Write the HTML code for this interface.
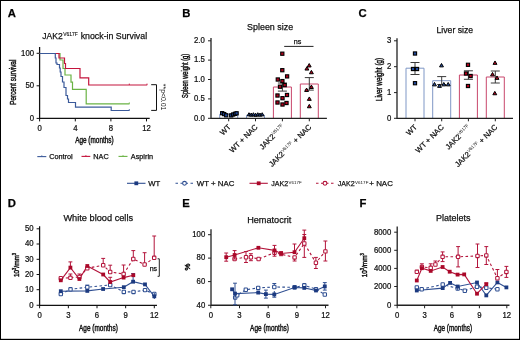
<!DOCTYPE html>
<html><head><meta charset="utf-8">
<style>
html,body{margin:0;padding:0;background:#fff;}
svg{display:block;}
text{font-family:"Liberation Sans",sans-serif;fill:#111;stroke:#111;stroke-width:0.25px;}
.pl{font-weight:bold;font-size:11.3px;fill:#000;}
.ti{font-size:9.6px;}
.tk{font-size:8.6px;}
.lg{font-size:7.75px;}
.cd{stroke-width:0.45px;}
.sp{stroke-width:0;}
</style></head>
<body>
<svg width="520" height="340" viewBox="0 0 520 340" xmlns="http://www.w3.org/2000/svg" style="will-change:transform">
<rect x="0.5" y="0.5" width="519" height="339" fill="#fff" stroke="#000" stroke-width="1"/>
<path d="M0 338.85H520" stroke="#000" stroke-width="0.3"/>

<text class="pl" x="7.8" y="16.6">A</text>
<text class="pl" x="182.2" y="16.6">B</text>
<text class="pl" x="358.5" y="16.6">C</text>
<text class="pl" x="7.8" y="206.6">D</text>
<text class="pl" x="182.2" y="206.6">E</text>
<text class="pl" x="359.5" y="206.6">F</text>
<text class="ti" x="42.3" y="39" textLength="20.4" lengthAdjust="spacingAndGlyphs">JAK2</text>
<text x="63.2" y="36" textLength="14.6" lengthAdjust="spacingAndGlyphs" style="font-size:5px;stroke-width:0.1px">V617F</text>
<text class="ti" x="80.7" y="39" textLength="66.4" lengthAdjust="spacingAndGlyphs">knock-in Survival</text>
<g stroke="#111" stroke-width="1.25" fill="none"><path d="M39.6 47V118.4H149.7"/></g>
<g stroke="#111" stroke-width="1" fill="none"><path d="M36.60 53.30H39.6M36.60 85.80H39.6M36.60 118.40H39.6M39.60 118.4V121.40M75.30 118.4V121.40M110.90 118.4V121.40M146.50 118.4V121.40"/></g>
<text class="tk" transform="translate(34.00,55.60) scale(0.9,1)" text-anchor="end">100</text>
<text class="tk" transform="translate(34.00,88.10) scale(0.9,1)" text-anchor="end">50</text>
<text class="tk" transform="translate(34.00,120.70) scale(0.9,1)" text-anchor="end">0</text>
<text class="tk" transform="translate(39.60,130.90) scale(0.9,1)" text-anchor="middle">0</text>
<text class="tk" transform="translate(75.30,130.90) scale(0.9,1)" text-anchor="middle">4</text>
<text class="tk" transform="translate(110.90,130.90) scale(0.9,1)" text-anchor="middle">8</text>
<text class="tk" transform="translate(146.50,130.90) scale(0.9,1)" text-anchor="middle">12</text>
<text class="cd" x="94.4" y="142.6" font-size="9.2" text-anchor="middle" textLength="38.5" lengthAdjust="spacingAndGlyphs">Age (months)</text>
<text class="cd" transform="translate(15.5,82.2) rotate(-90)" font-size="9.4" text-anchor="middle" textLength="45" lengthAdjust="spacingAndGlyphs">Percent survival</text>
<g fill="none" stroke-width="1.2">
<path stroke="#6ab344" d="M39.7 53.5H60V60H63V68.5H65V75H71V82.2H72.5V89.3H86.2V103.8H129.5"/>
<path stroke="#c4143c" d="M39.7 53.5H59V58H64.5V63.5H65.5V68.5H80V77.8H88.7V85H147.2"/>
<path stroke="#3b5a9a" d="M39.7 53.5H55.3V58H56V63H57V64.5H59.5V68H60.2V72H61V76.5H62.5V82H64V87.5H66V95.5H67.5V99H68.5V102.5H75.5V107.2H111.2V110.5H129.5"/>
</g>
<g stroke-width="0.9" fill="none"><path stroke="#c4143c" d="M129.3 83.6V85M147 83.6V85"/><path stroke="#6ab344" d="M129.3 102.4V103.8"/><path stroke="#3b5a9a" d="M129.3 109.1V110.5"/></g>
<path d="M151.2 84.7H156.5V110.4H151.2" stroke="#111" stroke-width="1" fill="none"/>
<text class="sp" transform="translate(161.4,83.8) rotate(90)" font-size="7.6" textLength="26.6" lengthAdjust="spacingAndGlyphs">**p&lt;0.01</text>
<g stroke-width="1.1"><path stroke="#3b5a9a" d="M37.3 156.6H46.3"/><path stroke="#c4143c" d="M81.5 156.4H90.3"/><path stroke="#6ab344" d="M118.5 156.4H127.5"/></g>
<g stroke-width="0.8"><path stroke="#3b5a9a" d="M41.8 155.3V156.6"/><path stroke="#c4143c" d="M85.9 155.1V156.4"/><path stroke="#6ab344" d="M123 155.1V156.4"/></g>
<g font-size="7.3"><text x="49.2" y="158.6">Control</text><text x="93.3" y="158.6">NAC</text><text x="130.8" y="158.6">Aspirin</text></g>
<text class="ti" x="247.1" y="30.1" textLength="46" lengthAdjust="spacingAndGlyphs">Spleen size</text>
<path d="M219.70 118.3V114.30H237.70V118.3" stroke="#7f97c6" stroke-width="1.0" fill="none"/>
<path d="M246.50 118.3V115.30H264.50V118.3" stroke="#7f97c6" stroke-width="1.0" fill="none"/>
<path d="M273.40 118.3V87.00H291.40V118.3" stroke="#c9476c" stroke-width="1.0" fill="none"/>
<path d="M300.30 118.3V84.00H318.30V118.3" stroke="#c9476c" stroke-width="1.0" fill="none"/>
<g stroke="#222" stroke-width="1.3" fill="none"><path d="M211.0 38V118.3H326.9"/></g>
<g stroke="#222" stroke-width="1" fill="none"><path d="M208.00 40.80H211.0M208.00 60.10H211.0M208.00 79.50H211.0M208.00 98.90H211.0M208.00 118.30H211.0M228.70 118.3V121.30M255.50 118.3V121.30M282.40 118.3V121.30M309.30 118.3V121.30"/></g>
<path d="M282.40 83.00V91.10M277.90 83.00H286.90M277.90 91.10H286.90" stroke="#3a3a3a" stroke-width="1.0" fill="none"/>
<path d="M309.30 77.60V90.10M304.80 77.60H313.80M304.80 90.10H313.80" stroke="#3a3a3a" stroke-width="1.0" fill="none"/>
<rect x="220.60" y="111.60" width="3.2" height="3.2" fill="#234a9c" stroke="#000" stroke-width="1.1"/>
<rect x="222.60" y="112.50" width="3.2" height="3.2" fill="#234a9c" stroke="#000" stroke-width="1.1"/>
<rect x="224.60" y="113.70" width="3.2" height="3.2" fill="#234a9c" stroke="#000" stroke-width="1.1"/>
<rect x="229.60" y="113.80" width="3.2" height="3.2" fill="#234a9c" stroke="#000" stroke-width="1.1"/>
<rect x="231.60" y="112.90" width="3.2" height="3.2" fill="#234a9c" stroke="#000" stroke-width="1.1"/>
<rect x="233.40" y="112.20" width="3.2" height="3.2" fill="#234a9c" stroke="#000" stroke-width="1.1"/>
<rect x="235.00" y="111.70" width="3.2" height="3.2" fill="#234a9c" stroke="#000" stroke-width="1.1"/>
<path d="M249.00 112.72L250.80 115.85L247.20 115.85Z" fill="#234a9c" stroke="#000" stroke-width="1.0"/>
<path d="M251.20 113.02L253.00 116.15L249.40 116.15Z" fill="#234a9c" stroke="#000" stroke-width="1.0"/>
<path d="M253.40 112.72L255.20 115.85L251.60 115.85Z" fill="#234a9c" stroke="#000" stroke-width="1.0"/>
<path d="M255.60 113.22L257.40 116.35L253.80 116.35Z" fill="#234a9c" stroke="#000" stroke-width="1.0"/>
<path d="M257.80 112.72L259.60 115.85L256.00 115.85Z" fill="#234a9c" stroke="#000" stroke-width="1.0"/>
<path d="M260.00 113.02L261.80 116.15L258.20 116.15Z" fill="#234a9c" stroke="#000" stroke-width="1.0"/>
<path d="M262.20 112.72L264.00 115.85L260.40 115.85Z" fill="#234a9c" stroke="#000" stroke-width="1.0"/>
<rect x="280.70" y="52.10" width="3.2" height="3.2" fill="#b4001c" stroke="#000" stroke-width="1.1"/>
<rect x="280.70" y="68.60" width="3.2" height="3.2" fill="#b4001c" stroke="#000" stroke-width="1.1"/>
<rect x="285.50" y="74.80" width="3.2" height="3.2" fill="#b4001c" stroke="#000" stroke-width="1.1"/>
<rect x="276.20" y="77.90" width="3.2" height="3.2" fill="#b4001c" stroke="#000" stroke-width="1.1"/>
<rect x="280.80" y="79.50" width="3.2" height="3.2" fill="#b4001c" stroke="#000" stroke-width="1.1"/>
<rect x="283.10" y="83.50" width="3.2" height="3.2" fill="#b4001c" stroke="#000" stroke-width="1.1"/>
<rect x="278.40" y="85.10" width="3.2" height="3.2" fill="#b4001c" stroke="#000" stroke-width="1.1"/>
<rect x="275.90" y="93.90" width="3.2" height="3.2" fill="#b4001c" stroke="#000" stroke-width="1.1"/>
<rect x="280.90" y="96.60" width="3.2" height="3.2" fill="#b4001c" stroke="#000" stroke-width="1.1"/>
<rect x="285.40" y="93.40" width="3.2" height="3.2" fill="#b4001c" stroke="#000" stroke-width="1.1"/>
<rect x="275.90" y="100.90" width="3.2" height="3.2" fill="#b4001c" stroke="#000" stroke-width="1.1"/>
<rect x="280.90" y="102.90" width="3.2" height="3.2" fill="#b4001c" stroke="#000" stroke-width="1.1"/>
<rect x="284.90" y="101.40" width="3.2" height="3.2" fill="#b4001c" stroke="#000" stroke-width="1.1"/>
<path d="M309.20 63.56L311.15 66.96L307.25 66.96Z" fill="#b4001c" stroke="#000" stroke-width="1.0"/>
<path d="M306.90 66.66L308.85 70.06L304.95 70.06Z" fill="#b4001c" stroke="#000" stroke-width="1.0"/>
<path d="M311.40 70.36L313.35 73.76L309.45 73.76Z" fill="#b4001c" stroke="#000" stroke-width="1.0"/>
<path d="M311.40 85.06L313.35 88.46L309.45 88.46Z" fill="#b4001c" stroke="#000" stroke-width="1.0"/>
<path d="M306.60 88.06L308.55 91.46L304.65 91.46Z" fill="#b4001c" stroke="#000" stroke-width="1.0"/>
<path d="M309.30 96.96L311.25 100.36L307.35 100.36Z" fill="#b4001c" stroke="#000" stroke-width="1.0"/>
<path d="M309.30 104.36L311.25 107.76L307.35 107.76Z" fill="#b4001c" stroke="#000" stroke-width="1.0"/>
<text class="tk" transform="translate(204.80,43.10) scale(0.9,1)" text-anchor="end">2.0</text>
<text class="tk" transform="translate(204.80,62.40) scale(0.9,1)" text-anchor="end">1.5</text>
<text class="tk" transform="translate(204.80,81.80) scale(0.9,1)" text-anchor="end">1.0</text>
<text class="tk" transform="translate(204.80,101.20) scale(0.9,1)" text-anchor="end">0.5</text>
<text class="tk" transform="translate(204.80,120.60) scale(0.9,1)" text-anchor="end">0.0</text>
<text class="cd" transform="translate(188.4,75.9) rotate(-90)" font-size="8.8" text-anchor="middle" textLength="44" lengthAdjust="spacingAndGlyphs">Spleen weight (g)</text>
<path d="M284.2 46.4H313.5" stroke="#222" stroke-width="1" fill="none"/>
<text x="297.6" y="43.9" font-size="7.2" text-anchor="middle">ns</text>
<text transform="translate(231.30,127.50) rotate(-45)" font-size="7.6" text-anchor="end">WT</text>
<text transform="translate(258.10,127.50) rotate(-45)" font-size="7.6" text-anchor="end">WT + NAC</text>
<text transform="translate(285.00,127.50) rotate(-45)" font-size="7.6" text-anchor="end">JAK2<tspan class="sp" font-size="4.6" dy="-2.8">V617F</tspan></text>
<text transform="translate(311.90,127.50) rotate(-45)" font-size="7.6" text-anchor="end">JAK2<tspan class="sp" font-size="4.6" dy="-2.8">V617F</tspan><tspan dy="2.8"> + NAC</tspan></text>
<text class="ti" x="436.5" y="32.5" textLength="36.6" lengthAdjust="spacingAndGlyphs">Liver size</text>
<path d="M406.00 118.3V68.20H424.00V118.3" stroke="#7f97c6" stroke-width="1.0" fill="none"/>
<path d="M432.70 118.3V80.70H450.70V118.3" stroke="#7f97c6" stroke-width="1.0" fill="none"/>
<path d="M459.40 118.3V75.00H477.40V118.3" stroke="#c9476c" stroke-width="1.0" fill="none"/>
<path d="M486.30 118.3V77.00H504.30V118.3" stroke="#c9476c" stroke-width="1.0" fill="none"/>
<g stroke="#222" stroke-width="1.3" fill="none"><path d="M397.0 38.3V118.3H513"/></g>
<g stroke="#222" stroke-width="1" fill="none"><path d="M394.00 40.80H397.0M394.00 66.70H397.0M394.00 92.60H397.0M394.00 118.30H397.0M415.00 118.3V121.30M441.70 118.3V121.30M468.40 118.3V121.30M495.30 118.3V121.30"/></g>
<path d="M415.00 62.50V74.50M410.50 62.50H419.50M410.50 74.50H419.50" stroke="#3a3a3a" stroke-width="1.0" fill="none"/>
<path d="M441.70 76.60V84.50M437.20 76.60H446.20M437.20 84.50H446.20" stroke="#3a3a3a" stroke-width="1.0" fill="none"/>
<path d="M468.40 70.80V79.30M463.90 70.80H472.90M463.90 79.30H472.90" stroke="#3a3a3a" stroke-width="1.0" fill="none"/>
<path d="M495.30 71.00V83.00M490.80 71.00H499.80M490.80 83.00H499.80" stroke="#3a3a3a" stroke-width="1.0" fill="none"/>
<rect x="413.40" y="51.90" width="3.2" height="3.2" fill="#234a9c" stroke="#000" stroke-width="1.1"/>
<rect x="411.40" y="67.40" width="3.2" height="3.2" fill="#234a9c" stroke="#000" stroke-width="1.1"/>
<rect x="415.40" y="67.40" width="3.2" height="3.2" fill="#234a9c" stroke="#000" stroke-width="1.1"/>
<rect x="413.40" y="81.60" width="3.2" height="3.2" fill="#234a9c" stroke="#000" stroke-width="1.1"/>
<path d="M441.50 63.46L443.45 66.86L439.55 66.86Z" fill="#234a9c" stroke="#000" stroke-width="1.0"/>
<path d="M434.50 82.46L436.45 85.86L432.55 85.86Z" fill="#234a9c" stroke="#000" stroke-width="1.0"/>
<path d="M439.50 83.96L441.45 87.36L437.55 87.36Z" fill="#234a9c" stroke="#000" stroke-width="1.0"/>
<path d="M443.80 82.46L445.75 85.86L441.85 85.86Z" fill="#234a9c" stroke="#000" stroke-width="1.0"/>
<path d="M448.20 82.46L450.15 85.86L446.25 85.86Z" fill="#234a9c" stroke="#000" stroke-width="1.0"/>
<rect x="466.40" y="63.20" width="3.2" height="3.2" fill="#b4001c" stroke="#000" stroke-width="1.1"/>
<rect x="464.40" y="71.90" width="3.2" height="3.2" fill="#b4001c" stroke="#000" stroke-width="1.1"/>
<rect x="469.00" y="74.40" width="3.2" height="3.2" fill="#b4001c" stroke="#000" stroke-width="1.1"/>
<rect x="466.40" y="84.40" width="3.2" height="3.2" fill="#b4001c" stroke="#000" stroke-width="1.1"/>
<path d="M495.00 60.96L496.95 64.36L493.05 64.36Z" fill="#b4001c" stroke="#000" stroke-width="1.0"/>
<path d="M492.50 72.46L494.45 75.86L490.55 75.86Z" fill="#b4001c" stroke="#000" stroke-width="1.0"/>
<path d="M497.00 75.96L498.95 79.36L495.05 79.36Z" fill="#b4001c" stroke="#000" stroke-width="1.0"/>
<path d="M494.80 91.36L496.75 94.76L492.85 94.76Z" fill="#b4001c" stroke="#000" stroke-width="1.0"/>
<text class="tk" transform="translate(391.20,43.10) scale(0.9,1)" text-anchor="end">3</text>
<text class="tk" transform="translate(391.20,69.00) scale(0.9,1)" text-anchor="end">2</text>
<text class="tk" transform="translate(391.20,94.90) scale(0.9,1)" text-anchor="end">1</text>
<text class="tk" transform="translate(391.20,120.60) scale(0.9,1)" text-anchor="end">0</text>
<text class="cd" transform="translate(382.3,79.5) rotate(-90)" font-size="8.6" text-anchor="middle" textLength="43.2" lengthAdjust="spacingAndGlyphs">Liver weight (g)</text>
<text transform="translate(417.60,127.70) rotate(-45)" font-size="7.6" text-anchor="end">WT</text>
<text transform="translate(444.30,127.70) rotate(-45)" font-size="7.6" text-anchor="end">WT + NAC</text>
<text transform="translate(471.00,127.70) rotate(-45)" font-size="7.6" text-anchor="end">JAK2<tspan class="sp" font-size="4.6" dy="-2.8">V617F</tspan></text>
<text transform="translate(497.90,127.70) rotate(-45)" font-size="7.6" text-anchor="end">JAK2<tspan class="sp" font-size="4.6" dy="-2.8">V617F</tspan><tspan dy="2.8"> + NAC</tspan></text>
<path d="M127 183.3H145.5" stroke="#2f4f92" stroke-width="1.1"/>
<rect x="134.40" y="181.40" width="3.8" height="3.8" fill="#1c3a80"/>
<path d="M175.5 183.3H193.5" stroke="#2f4f92" stroke-width="1.1" stroke-dasharray="2.5 2.5"/>
<circle cx="184.5" cy="183.3" r="1.9" fill="#fff" stroke="#2f4f92" stroke-width="1.1"/>
<path d="M249.5 183.3H267.8" stroke="#b3143b" stroke-width="1.1"/>
<rect x="256.80" y="181.40" width="3.8" height="3.8" fill="#aa0829"/>
<path d="M316 183.3H334.5" stroke="#b3143b" stroke-width="1.1" stroke-dasharray="2.5 2.5"/>
<circle cx="325" cy="183.3" r="1.9" fill="#fff" stroke="#b3143b" stroke-width="1.1"/>
<g class="lg"><text x="148.2" y="185.7" textLength="12" lengthAdjust="spacingAndGlyphs">WT</text><text x="196.8" y="185.7" textLength="37.6" lengthAdjust="spacingAndGlyphs">WT + NAC</text><text x="271.3" y="185.7" textLength="16.9" lengthAdjust="spacingAndGlyphs">JAK2</text><text class="sp" x="288.6" y="183.5" font-size="4.2" textLength="13" lengthAdjust="spacingAndGlyphs">V617F</text><text x="337.8" y="185.7" textLength="16.9" lengthAdjust="spacingAndGlyphs">JAK2</text><text class="sp" x="355.1" y="183.5" font-size="4.2" textLength="13.3" lengthAdjust="spacingAndGlyphs">V617F</text><text x="369.3" y="185.7" textLength="23.6" lengthAdjust="spacingAndGlyphs">+ NAC</text></g>
<text class="ti" x="63.4" y="220.5" textLength="69.7" lengthAdjust="spacingAndGlyphs">White blood cells</text>
<g stroke="#111" stroke-width="1.25" fill="none"><path d="M39.6 226.2V305.25H157"/></g>
<g stroke="#111" stroke-width="1" fill="none"><path d="M36.60 228.80H39.6M36.60 244.00H39.6M36.60 259.30H39.6M36.60 274.50H39.6M36.60 289.70H39.6M36.60 305.25H39.6M39.60 305.25V308.25M68.35 305.25V308.25M97.00 305.25V308.25M125.65 305.25V308.25M154.30 305.25V308.25"/></g>
<text class="tk" transform="translate(33.60,231.10) scale(0.9,1)" text-anchor="end">50</text>
<text class="tk" transform="translate(33.60,246.30) scale(0.9,1)" text-anchor="end">40</text>
<text class="tk" transform="translate(33.60,261.60) scale(0.9,1)" text-anchor="end">30</text>
<text class="tk" transform="translate(33.60,276.80) scale(0.9,1)" text-anchor="end">20</text>
<text class="tk" transform="translate(33.60,292.00) scale(0.9,1)" text-anchor="end">10</text>
<text class="tk" transform="translate(33.60,307.55) scale(0.9,1)" text-anchor="end">0</text>
<text class="tk" transform="translate(39.60,317.90) scale(0.9,1)" text-anchor="middle">0</text>
<text class="tk" transform="translate(68.35,317.90) scale(0.9,1)" text-anchor="middle">3</text>
<text class="tk" transform="translate(97.00,317.90) scale(0.9,1)" text-anchor="middle">6</text>
<text class="tk" transform="translate(125.65,317.90) scale(0.9,1)" text-anchor="middle">9</text>
<text class="tk" transform="translate(154.30,317.90) scale(0.9,1)" text-anchor="middle">12</text>
<text class="cd" x="98.4" y="330.8" font-size="9.2" text-anchor="middle" textLength="38.8" lengthAdjust="spacingAndGlyphs">Age (months)</text>
<text class="cd" transform="translate(18.6,265) rotate(-90)" font-size="7.8" text-anchor="middle" textLength="24" lengthAdjust="spacingAndGlyphs">10<tspan class="cd" font-size="5" dy="-2.8">3</tspan><tspan dy="2.8">/mm</tspan><tspan class="cd" font-size="5" dy="-2.8">3</tspan></text>
<path d="M60.80 294.10 L70.50 289.30 L87.30 287.20 L110.20 285.00 L123.80 291.90 L133.50 291.90 L145.00 290.10 L154.30 294.00" stroke="#2f4f92" stroke-width="1.1" fill="none" stroke-dasharray="2.6 2.4"/>
<path d="M60.80 291.20 L87.30 290.90 L103.10 289.00 L123.80 287.20 L133.10 281.70 L145.00 284.40 L154.30 296.30" stroke="#2f4f92" stroke-width="1.1" fill="none"/>
<path d="M60.80 278.20 L70.40 277.80 L79.40 277.00 L87.30 268.20 L103.20 265.20 L110.20 272.00 L123.60 274.00 L133.30 259.00 L144.60 264.50 L154.20 257.80" stroke="#b3143b" stroke-width="1.1" fill="none" stroke-dasharray="2.6 2.4"/>
<path d="M60.80 280.30 L70.40 267.60 L79.40 279.00 L87.30 266.00 L103.20 274.50 L110.20 282.00 L123.60 277.60 L133.30 275.20" stroke="#b3143b" stroke-width="1.1" fill="none"/>
<path d="M87.30 285.10V287.20" stroke="#2f4f92" stroke-width="1" fill="none"/>
<path d="M85.35 285.10H89.25" stroke="#2f4f92" stroke-width="1.0" fill="none"/>
<rect x="59.10" y="292.40" width="3.4" height="3.4" rx="0.7" fill="#fff" stroke="#2f4f92" stroke-width="1.05"/>
<rect x="68.80" y="287.60" width="3.4" height="3.4" rx="0.7" fill="#fff" stroke="#2f4f92" stroke-width="1.05"/>
<rect x="85.60" y="285.50" width="3.4" height="3.4" rx="0.7" fill="#fff" stroke="#2f4f92" stroke-width="1.05"/>
<rect x="108.50" y="283.30" width="3.4" height="3.4" rx="0.7" fill="#fff" stroke="#2f4f92" stroke-width="1.05"/>
<rect x="122.10" y="290.20" width="3.4" height="3.4" rx="0.7" fill="#fff" stroke="#2f4f92" stroke-width="1.05"/>
<rect x="131.80" y="290.20" width="3.4" height="3.4" rx="0.7" fill="#fff" stroke="#2f4f92" stroke-width="1.05"/>
<rect x="143.30" y="288.40" width="3.4" height="3.4" rx="0.7" fill="#fff" stroke="#2f4f92" stroke-width="1.05"/>
<rect x="152.60" y="292.30" width="3.4" height="3.4" rx="0.7" fill="#fff" stroke="#2f4f92" stroke-width="1.05"/>
<path d="M133.10 273.60V281.70" stroke="#2f4f92" stroke-width="1" fill="none"/>
<path d="M131.15 273.60H135.05" stroke="#2f4f92" stroke-width="1.0" fill="none"/>
<path d="M154.30 293.00V299.00" stroke="#2f4f92" stroke-width="1" fill="none"/>
<rect x="58.90" y="289.30" width="3.8" height="3.8" fill="#1c3a80"/>
<rect x="85.40" y="289.00" width="3.8" height="3.8" fill="#1c3a80"/>
<rect x="101.20" y="287.10" width="3.8" height="3.8" fill="#1c3a80"/>
<rect x="121.90" y="285.30" width="3.8" height="3.8" fill="#1c3a80"/>
<rect x="131.20" y="279.80" width="3.8" height="3.8" fill="#1c3a80"/>
<rect x="143.10" y="282.50" width="3.8" height="3.8" fill="#1c3a80"/>
<rect x="152.40" y="294.40" width="3.8" height="3.8" fill="#1c3a80"/>
<path d="M70.40 274.00V277.80" stroke="#b3143b" stroke-width="1" fill="none"/>
<path d="M68.45 274.00H72.35" stroke="#b3143b" stroke-width="1.0" fill="none"/>
<path d="M79.40 274.00V277.00" stroke="#b3143b" stroke-width="1" fill="none"/>
<path d="M77.45 274.00H81.35" stroke="#b3143b" stroke-width="1.0" fill="none"/>
<path d="M103.20 258.40V265.20" stroke="#b3143b" stroke-width="1" fill="none"/>
<path d="M101.25 258.40H105.15" stroke="#b3143b" stroke-width="1.0" fill="none"/>
<path d="M110.20 265.20V272.00" stroke="#b3143b" stroke-width="1" fill="none"/>
<path d="M108.25 265.20H112.15" stroke="#b3143b" stroke-width="1.0" fill="none"/>
<path d="M123.60 265.00V274.00" stroke="#b3143b" stroke-width="1" fill="none"/>
<path d="M121.65 265.00H125.55" stroke="#b3143b" stroke-width="1.0" fill="none"/>
<path d="M133.30 250.60V259.00" stroke="#b3143b" stroke-width="1" fill="none"/>
<path d="M131.35 250.60H135.25" stroke="#b3143b" stroke-width="1.0" fill="none"/>
<path d="M144.60 252.70V264.50" stroke="#b3143b" stroke-width="1" fill="none"/>
<path d="M142.65 252.70H146.55" stroke="#b3143b" stroke-width="1.0" fill="none"/>
<path d="M154.20 236.00V257.80" stroke="#b3143b" stroke-width="1" fill="none"/>
<path d="M152.25 236.00H156.15" stroke="#b3143b" stroke-width="1.0" fill="none"/>
<rect x="59.10" y="276.50" width="3.4" height="3.4" rx="0.7" fill="#fff" stroke="#b3143b" stroke-width="1.05"/>
<rect x="68.70" y="276.10" width="3.4" height="3.4" rx="0.7" fill="#fff" stroke="#b3143b" stroke-width="1.05"/>
<rect x="77.70" y="275.30" width="3.4" height="3.4" rx="0.7" fill="#fff" stroke="#b3143b" stroke-width="1.05"/>
<rect x="85.60" y="266.50" width="3.4" height="3.4" rx="0.7" fill="#fff" stroke="#b3143b" stroke-width="1.05"/>
<rect x="101.50" y="263.50" width="3.4" height="3.4" rx="0.7" fill="#fff" stroke="#b3143b" stroke-width="1.05"/>
<rect x="108.50" y="270.30" width="3.4" height="3.4" rx="0.7" fill="#fff" stroke="#b3143b" stroke-width="1.05"/>
<rect x="121.90" y="272.30" width="3.4" height="3.4" rx="0.7" fill="#fff" stroke="#b3143b" stroke-width="1.05"/>
<rect x="131.60" y="257.30" width="3.4" height="3.4" rx="0.7" fill="#fff" stroke="#b3143b" stroke-width="1.05"/>
<rect x="142.90" y="262.80" width="3.4" height="3.4" rx="0.7" fill="#fff" stroke="#b3143b" stroke-width="1.05"/>
<rect x="152.50" y="256.10" width="3.4" height="3.4" rx="0.7" fill="#fff" stroke="#b3143b" stroke-width="1.05"/>
<path d="M70.40 261.90V267.60" stroke="#b3143b" stroke-width="1" fill="none"/>
<path d="M68.45 261.90H72.35" stroke="#b3143b" stroke-width="1.0" fill="none"/>
<path d="M110.20 277.30V282.00" stroke="#b3143b" stroke-width="1" fill="none"/>
<path d="M108.25 277.30H112.15" stroke="#b3143b" stroke-width="1.0" fill="none"/>
<rect x="58.90" y="278.40" width="3.8" height="3.8" fill="#aa0829"/>
<rect x="68.50" y="265.70" width="3.8" height="3.8" fill="#aa0829"/>
<rect x="77.50" y="277.10" width="3.8" height="3.8" fill="#aa0829"/>
<rect x="85.40" y="264.10" width="3.8" height="3.8" fill="#aa0829"/>
<rect x="101.30" y="272.60" width="3.8" height="3.8" fill="#aa0829"/>
<rect x="108.30" y="280.10" width="3.8" height="3.8" fill="#aa0829"/>
<rect x="121.70" y="275.70" width="3.8" height="3.8" fill="#aa0829"/>
<rect x="131.40" y="273.30" width="3.8" height="3.8" fill="#aa0829"/>
<path d="M157.6 258.8H159.3V276.3H157.6" stroke="#222" stroke-width="1" fill="none"/>
<text x="153.4" y="270.6" font-size="7" text-anchor="middle" fill="#333">ns</text>
<text class="ti" x="247.2" y="223.4" textLength="44.2" lengthAdjust="spacingAndGlyphs">Hematocrit</text>
<g stroke="#222" stroke-width="1.3" fill="none"><path d="M211.0 229.2V305.25H328.5"/></g>
<g stroke="#222" stroke-width="1" fill="none"><path d="M208.00 234.70H211.0M208.00 258.10H211.0M208.00 281.60H211.0M208.00 305.25H211.0M210.80 305.25V308.25M239.50 305.25V308.25M268.20 305.25V308.25M296.80 305.25V308.25M325.50 305.25V308.25"/></g>
<text class="tk" transform="translate(205.20,237.00) scale(0.9,1)" text-anchor="end">100</text>
<text class="tk" transform="translate(205.20,260.40) scale(0.9,1)" text-anchor="end">80</text>
<text class="tk" transform="translate(205.20,283.90) scale(0.9,1)" text-anchor="end">60</text>
<text class="tk" transform="translate(205.20,307.55) scale(0.9,1)" text-anchor="end">40</text>
<text class="tk" transform="translate(210.80,317.90) scale(0.9,1)" text-anchor="middle">0</text>
<text class="tk" transform="translate(239.50,317.90) scale(0.9,1)" text-anchor="middle">3</text>
<text class="tk" transform="translate(268.20,317.90) scale(0.9,1)" text-anchor="middle">6</text>
<text class="tk" transform="translate(296.80,317.90) scale(0.9,1)" text-anchor="middle">9</text>
<text class="tk" transform="translate(325.50,317.90) scale(0.9,1)" text-anchor="middle">12</text>
<text class="cd" x="269.5" y="330.8" font-size="9.2" text-anchor="middle" textLength="38.8" lengthAdjust="spacingAndGlyphs">Age (months)</text>
<text class="cd" transform="translate(190.4,267) rotate(-90)" font-size="7.8" text-anchor="middle">%</text>
<path d="M235.20 297.60 L237.20 295.30 L245.80 289.70 L258.20 287.90 L274.30 287.00 L294.60 287.30 L304.30 285.30 L316.00 289.20 L324.80 294.50" stroke="#2f4f92" stroke-width="1.1" fill="none" stroke-dasharray="2.6 2.4"/>
<path d="M232.10 289.30 L235.00 293.60 L258.20 292.60 L265.90 294.10 L274.30 294.40 L294.60 287.50 L304.30 287.90 L316.00 290.50 L324.80 286.40" stroke="#2f4f92" stroke-width="1.1" fill="none"/>
<path d="M234.60 259.00 L246.00 257.20 L250.90 257.20 L258.60 259.00 L274.50 252.70 L294.60 257.40 L304.30 243.50 L315.90 262.70 L325.40 251.40" stroke="#b3143b" stroke-width="1.1" fill="none" stroke-dasharray="2.6 2.4"/>
<path d="M226.20 257.20 L234.60 255.00 L258.40 247.80 L274.50 250.40 L281.10 253.50 L294.50 252.20 L304.30 238.20" stroke="#b3143b" stroke-width="1.1" fill="none"/>
<path d="M274.30 283.50V287.00" stroke="#2f4f92" stroke-width="1" fill="none"/>
<path d="M272.35 283.50H276.25" stroke="#2f4f92" stroke-width="1.0" fill="none"/>
<rect x="233.50" y="295.90" width="3.4" height="3.4" rx="0.7" fill="#fff" stroke="#2f4f92" stroke-width="1.05"/>
<rect x="235.50" y="293.60" width="3.4" height="3.4" rx="0.7" fill="#fff" stroke="#2f4f92" stroke-width="1.05"/>
<rect x="244.10" y="288.00" width="3.4" height="3.4" rx="0.7" fill="#fff" stroke="#2f4f92" stroke-width="1.05"/>
<rect x="256.50" y="286.20" width="3.4" height="3.4" rx="0.7" fill="#fff" stroke="#2f4f92" stroke-width="1.05"/>
<rect x="272.60" y="285.30" width="3.4" height="3.4" rx="0.7" fill="#fff" stroke="#2f4f92" stroke-width="1.05"/>
<rect x="292.90" y="285.60" width="3.4" height="3.4" rx="0.7" fill="#fff" stroke="#2f4f92" stroke-width="1.05"/>
<rect x="302.60" y="283.60" width="3.4" height="3.4" rx="0.7" fill="#fff" stroke="#2f4f92" stroke-width="1.05"/>
<rect x="314.30" y="287.50" width="3.4" height="3.4" rx="0.7" fill="#fff" stroke="#2f4f92" stroke-width="1.05"/>
<rect x="323.10" y="292.80" width="3.4" height="3.4" rx="0.7" fill="#fff" stroke="#2f4f92" stroke-width="1.05"/>
<path d="M235.00 283.20V304.80" stroke="#2f4f92" stroke-width="1" fill="none"/>
<path d="M233.05 283.20H236.95" stroke="#2f4f92" stroke-width="1.0" fill="none"/>
<path d="M233.05 304.80H236.95" stroke="#2f4f92" stroke-width="1.0" fill="none"/>
<path d="M265.90 290.10V298.10" stroke="#2f4f92" stroke-width="1" fill="none"/>
<path d="M263.95 290.10H267.85" stroke="#2f4f92" stroke-width="1.0" fill="none"/>
<path d="M263.95 298.10H267.85" stroke="#2f4f92" stroke-width="1.0" fill="none"/>
<path d="M274.30 291.00V297.20" stroke="#2f4f92" stroke-width="1" fill="none"/>
<path d="M272.35 297.20H276.25" stroke="#2f4f92" stroke-width="1.0" fill="none"/>
<path d="M324.80 282.60V290.10" stroke="#2f4f92" stroke-width="1" fill="none"/>
<path d="M322.85 282.60H326.75" stroke="#2f4f92" stroke-width="1.0" fill="none"/>
<path d="M322.85 290.10H326.75" stroke="#2f4f92" stroke-width="1.0" fill="none"/>
<rect x="230.20" y="287.40" width="3.8" height="3.8" fill="#1c3a80"/>
<rect x="233.10" y="291.70" width="3.8" height="3.8" fill="#1c3a80"/>
<rect x="256.30" y="290.70" width="3.8" height="3.8" fill="#1c3a80"/>
<rect x="264.00" y="292.20" width="3.8" height="3.8" fill="#1c3a80"/>
<rect x="272.40" y="292.50" width="3.8" height="3.8" fill="#1c3a80"/>
<rect x="292.70" y="285.60" width="3.8" height="3.8" fill="#1c3a80"/>
<rect x="302.40" y="286.00" width="3.8" height="3.8" fill="#1c3a80"/>
<rect x="314.10" y="288.60" width="3.8" height="3.8" fill="#1c3a80"/>
<rect x="322.90" y="284.50" width="3.8" height="3.8" fill="#1c3a80"/>
<path d="M246.00 251.50V262.50" stroke="#b3143b" stroke-width="1" fill="none"/>
<path d="M244.05 251.50H247.95" stroke="#b3143b" stroke-width="1.0" fill="none"/>
<path d="M244.05 262.50H247.95" stroke="#b3143b" stroke-width="1.0" fill="none"/>
<path d="M250.90 253.70V260.70" stroke="#b3143b" stroke-width="1" fill="none"/>
<path d="M248.95 253.70H252.85" stroke="#b3143b" stroke-width="1.0" fill="none"/>
<path d="M248.95 260.70H252.85" stroke="#b3143b" stroke-width="1.0" fill="none"/>
<path d="M294.60 257.40V261.00" stroke="#b3143b" stroke-width="1" fill="none"/>
<path d="M292.65 261.00H296.55" stroke="#b3143b" stroke-width="1.0" fill="none"/>
<path d="M304.30 234.50V257.40" stroke="#b3143b" stroke-width="1" fill="none"/>
<path d="M302.35 234.50H306.25" stroke="#b3143b" stroke-width="1.0" fill="none"/>
<path d="M302.35 257.40H306.25" stroke="#b3143b" stroke-width="1.0" fill="none"/>
<path d="M315.90 257.40V268.50" stroke="#b3143b" stroke-width="1" fill="none"/>
<path d="M313.95 257.40H317.85" stroke="#b3143b" stroke-width="1.0" fill="none"/>
<path d="M313.95 268.50H317.85" stroke="#b3143b" stroke-width="1.0" fill="none"/>
<path d="M325.40 241.00V261.00" stroke="#b3143b" stroke-width="1" fill="none"/>
<path d="M323.45 241.00H327.35" stroke="#b3143b" stroke-width="1.0" fill="none"/>
<path d="M323.45 261.00H327.35" stroke="#b3143b" stroke-width="1.0" fill="none"/>
<rect x="232.90" y="257.30" width="3.4" height="3.4" rx="0.7" fill="#fff" stroke="#b3143b" stroke-width="1.05"/>
<rect x="244.30" y="255.50" width="3.4" height="3.4" rx="0.7" fill="#fff" stroke="#b3143b" stroke-width="1.05"/>
<rect x="249.20" y="255.50" width="3.4" height="3.4" rx="0.7" fill="#fff" stroke="#b3143b" stroke-width="1.05"/>
<rect x="256.90" y="257.30" width="3.4" height="3.4" rx="0.7" fill="#fff" stroke="#b3143b" stroke-width="1.05"/>
<rect x="272.80" y="251.00" width="3.4" height="3.4" rx="0.7" fill="#fff" stroke="#b3143b" stroke-width="1.05"/>
<rect x="292.90" y="255.70" width="3.4" height="3.4" rx="0.7" fill="#fff" stroke="#b3143b" stroke-width="1.05"/>
<rect x="302.60" y="241.80" width="3.4" height="3.4" rx="0.7" fill="#fff" stroke="#b3143b" stroke-width="1.05"/>
<rect x="314.20" y="261.00" width="3.4" height="3.4" rx="0.7" fill="#fff" stroke="#b3143b" stroke-width="1.05"/>
<rect x="323.70" y="249.70" width="3.4" height="3.4" rx="0.7" fill="#fff" stroke="#b3143b" stroke-width="1.05"/>
<path d="M226.20 253.00V261.20" stroke="#b3143b" stroke-width="1" fill="none"/>
<path d="M224.25 253.00H228.15" stroke="#b3143b" stroke-width="1.0" fill="none"/>
<path d="M224.25 261.20H228.15" stroke="#b3143b" stroke-width="1.0" fill="none"/>
<path d="M234.60 250.60V259.00" stroke="#b3143b" stroke-width="1" fill="none"/>
<path d="M232.65 250.60H236.55" stroke="#b3143b" stroke-width="1.0" fill="none"/>
<path d="M232.65 259.00H236.55" stroke="#b3143b" stroke-width="1.0" fill="none"/>
<path d="M274.50 245.40V256.20" stroke="#b3143b" stroke-width="1" fill="none"/>
<path d="M272.55 245.40H276.45" stroke="#b3143b" stroke-width="1.0" fill="none"/>
<path d="M272.55 256.20H276.45" stroke="#b3143b" stroke-width="1.0" fill="none"/>
<path d="M281.10 251.60V255.70" stroke="#b3143b" stroke-width="1" fill="none"/>
<path d="M279.15 251.60H283.05" stroke="#b3143b" stroke-width="1.0" fill="none"/>
<path d="M279.15 255.70H283.05" stroke="#b3143b" stroke-width="1.0" fill="none"/>
<path d="M294.50 244.00V252.20" stroke="#b3143b" stroke-width="1" fill="none"/>
<path d="M292.55 244.00H296.45" stroke="#b3143b" stroke-width="1.0" fill="none"/>
<path d="M304.30 230.10V238.20" stroke="#b3143b" stroke-width="1" fill="none"/>
<path d="M302.35 230.10H306.25" stroke="#b3143b" stroke-width="1.0" fill="none"/>
<rect x="224.30" y="255.30" width="3.8" height="3.8" fill="#aa0829"/>
<rect x="232.70" y="253.10" width="3.8" height="3.8" fill="#aa0829"/>
<rect x="256.50" y="245.90" width="3.8" height="3.8" fill="#aa0829"/>
<rect x="272.60" y="248.50" width="3.8" height="3.8" fill="#aa0829"/>
<rect x="279.20" y="251.60" width="3.8" height="3.8" fill="#aa0829"/>
<rect x="292.60" y="250.30" width="3.8" height="3.8" fill="#aa0829"/>
<rect x="302.40" y="236.30" width="3.8" height="3.8" fill="#aa0829"/>
<text class="ti" x="436.1" y="220.6" textLength="34.5" lengthAdjust="spacingAndGlyphs">Platelets</text>
<g stroke="#222" stroke-width="1.3" fill="none"><path d="M397.2 226.5V305.25H509.5"/></g>
<g stroke="#222" stroke-width="1" fill="none"><path d="M394.20 232.20H397.2M394.20 250.30H397.2M394.20 268.40H397.2M394.20 286.50H397.2M394.20 305.25H397.2M397.20 305.25V308.25M424.60 305.25V308.25M452.00 305.25V308.25M479.40 305.25V308.25M506.80 305.25V308.25"/></g>
<text class="tk" transform="translate(391.20,234.50) scale(0.9,1)" text-anchor="end">8000</text>
<text class="tk" transform="translate(391.20,252.60) scale(0.9,1)" text-anchor="end">6000</text>
<text class="tk" transform="translate(391.20,270.70) scale(0.9,1)" text-anchor="end">4000</text>
<text class="tk" transform="translate(391.20,288.80) scale(0.9,1)" text-anchor="end">2000</text>
<text class="tk" transform="translate(391.20,307.55) scale(0.9,1)" text-anchor="end">0</text>
<text class="tk" transform="translate(397.20,317.90) scale(0.9,1)" text-anchor="middle">0</text>
<text class="tk" transform="translate(424.60,317.90) scale(0.9,1)" text-anchor="middle">3</text>
<text class="tk" transform="translate(452.00,317.90) scale(0.9,1)" text-anchor="middle">6</text>
<text class="tk" transform="translate(479.40,317.90) scale(0.9,1)" text-anchor="middle">9</text>
<text class="tk" transform="translate(506.80,317.90) scale(0.9,1)" text-anchor="middle">12</text>
<text class="cd" x="452.9" y="330.8" font-size="9.2" text-anchor="middle" textLength="38.4" lengthAdjust="spacingAndGlyphs">Age (months)</text>
<text class="cd" transform="translate(366.9,265.3) rotate(-90)" font-size="7.8" text-anchor="middle" textLength="24" lengthAdjust="spacingAndGlyphs">10<tspan class="cd" font-size="5" dy="-2.8">3</tspan><tspan dy="2.8">/mm</tspan><tspan class="cd" font-size="5" dy="-2.8">3</tspan></text>
<path d="M416.80 287.40 L421.70 289.20 L442.70 284.50 L457.70 288.50 L464.80 290.70 L477.00 286.70 L486.30 287.70 L497.40 289.20" stroke="#2f4f92" stroke-width="1.1" fill="none" stroke-dasharray="2.6 2.4"/>
<path d="M416.80 290.50 L442.70 288.10 L450.10 282.90 L457.70 286.50 L477.00 282.50 L486.30 295.40 L497.40 282.40 L506.40 287.40" stroke="#2f4f92" stroke-width="1.1" fill="none"/>
<path d="M416.80 271.80 L421.90 267.00 L430.70 267.80 L435.40 264.50 L442.60 256.80 L458.10 256.80 L477.50 255.90 L486.30 255.40 L497.40 278.20 L506.40 271.90" stroke="#b3143b" stroke-width="1.1" fill="none" stroke-dasharray="2.6 2.4"/>
<path d="M416.80 280.50 L421.90 268.20 L430.70 270.90 L442.60 267.00 L449.70 271.70 L457.60 274.60 L464.20 274.40 L477.00 293.70 L486.30 284.20" stroke="#b3143b" stroke-width="1.1" fill="none"/>
<rect x="415.10" y="285.70" width="3.4" height="3.4" rx="0.7" fill="#fff" stroke="#2f4f92" stroke-width="1.05"/>
<rect x="420.00" y="287.50" width="3.4" height="3.4" rx="0.7" fill="#fff" stroke="#2f4f92" stroke-width="1.05"/>
<rect x="441.00" y="282.80" width="3.4" height="3.4" rx="0.7" fill="#fff" stroke="#2f4f92" stroke-width="1.05"/>
<rect x="456.00" y="286.80" width="3.4" height="3.4" rx="0.7" fill="#fff" stroke="#2f4f92" stroke-width="1.05"/>
<rect x="463.10" y="289.00" width="3.4" height="3.4" rx="0.7" fill="#fff" stroke="#2f4f92" stroke-width="1.05"/>
<rect x="475.30" y="285.00" width="3.4" height="3.4" rx="0.7" fill="#fff" stroke="#2f4f92" stroke-width="1.05"/>
<rect x="484.60" y="286.00" width="3.4" height="3.4" rx="0.7" fill="#fff" stroke="#2f4f92" stroke-width="1.05"/>
<rect x="495.70" y="287.50" width="3.4" height="3.4" rx="0.7" fill="#fff" stroke="#2f4f92" stroke-width="1.05"/>
<path d="M457.70 285.40V290.10" stroke="#2f4f92" stroke-width="1" fill="none"/>
<rect x="414.90" y="288.60" width="3.8" height="3.8" fill="#1c3a80"/>
<rect x="440.80" y="286.20" width="3.8" height="3.8" fill="#1c3a80"/>
<rect x="448.20" y="281.00" width="3.8" height="3.8" fill="#1c3a80"/>
<rect x="455.80" y="284.60" width="3.8" height="3.8" fill="#1c3a80"/>
<rect x="475.10" y="280.60" width="3.8" height="3.8" fill="#1c3a80"/>
<rect x="484.40" y="293.50" width="3.8" height="3.8" fill="#1c3a80"/>
<rect x="495.50" y="280.50" width="3.8" height="3.8" fill="#1c3a80"/>
<rect x="504.50" y="285.50" width="3.8" height="3.8" fill="#1c3a80"/>
<path d="M430.70 263.80V267.80" stroke="#b3143b" stroke-width="1" fill="none"/>
<path d="M428.75 263.80H432.65" stroke="#b3143b" stroke-width="1.0" fill="none"/>
<path d="M435.40 261.00V264.50" stroke="#b3143b" stroke-width="1" fill="none"/>
<path d="M433.45 261.00H437.35" stroke="#b3143b" stroke-width="1.0" fill="none"/>
<path d="M442.60 251.90V261.60" stroke="#b3143b" stroke-width="1" fill="none"/>
<path d="M440.65 251.90H444.55" stroke="#b3143b" stroke-width="1.0" fill="none"/>
<path d="M440.65 261.60H444.55" stroke="#b3143b" stroke-width="1.0" fill="none"/>
<path d="M458.10 246.60V266.90" stroke="#b3143b" stroke-width="1" fill="none"/>
<path d="M456.15 246.60H460.05" stroke="#b3143b" stroke-width="1.0" fill="none"/>
<path d="M456.15 266.90H460.05" stroke="#b3143b" stroke-width="1.0" fill="none"/>
<path d="M477.50 244.00V267.50" stroke="#b3143b" stroke-width="1" fill="none"/>
<path d="M475.55 244.00H479.45" stroke="#b3143b" stroke-width="1.0" fill="none"/>
<path d="M475.55 267.50H479.45" stroke="#b3143b" stroke-width="1.0" fill="none"/>
<path d="M486.30 246.60V264.50" stroke="#b3143b" stroke-width="1" fill="none"/>
<path d="M484.35 246.60H488.25" stroke="#b3143b" stroke-width="1.0" fill="none"/>
<path d="M484.35 264.50H488.25" stroke="#b3143b" stroke-width="1.0" fill="none"/>
<path d="M497.40 269.50V278.20" stroke="#b3143b" stroke-width="1" fill="none"/>
<path d="M495.45 269.50H499.35" stroke="#b3143b" stroke-width="1.0" fill="none"/>
<path d="M506.40 266.40V277.40" stroke="#b3143b" stroke-width="1" fill="none"/>
<path d="M504.45 266.40H508.35" stroke="#b3143b" stroke-width="1.0" fill="none"/>
<path d="M504.45 277.40H508.35" stroke="#b3143b" stroke-width="1.0" fill="none"/>
<rect x="415.10" y="270.10" width="3.4" height="3.4" rx="0.7" fill="#fff" stroke="#b3143b" stroke-width="1.05"/>
<rect x="420.20" y="265.30" width="3.4" height="3.4" rx="0.7" fill="#fff" stroke="#b3143b" stroke-width="1.05"/>
<rect x="429.00" y="266.10" width="3.4" height="3.4" rx="0.7" fill="#fff" stroke="#b3143b" stroke-width="1.05"/>
<rect x="433.70" y="262.80" width="3.4" height="3.4" rx="0.7" fill="#fff" stroke="#b3143b" stroke-width="1.05"/>
<rect x="440.90" y="255.10" width="3.4" height="3.4" rx="0.7" fill="#fff" stroke="#b3143b" stroke-width="1.05"/>
<rect x="456.40" y="255.10" width="3.4" height="3.4" rx="0.7" fill="#fff" stroke="#b3143b" stroke-width="1.05"/>
<rect x="475.80" y="254.20" width="3.4" height="3.4" rx="0.7" fill="#fff" stroke="#b3143b" stroke-width="1.05"/>
<rect x="484.60" y="253.70" width="3.4" height="3.4" rx="0.7" fill="#fff" stroke="#b3143b" stroke-width="1.05"/>
<rect x="495.70" y="276.50" width="3.4" height="3.4" rx="0.7" fill="#fff" stroke="#b3143b" stroke-width="1.05"/>
<rect x="504.70" y="270.20" width="3.4" height="3.4" rx="0.7" fill="#fff" stroke="#b3143b" stroke-width="1.05"/>
<path d="M421.90 263.80V268.20" stroke="#b3143b" stroke-width="1" fill="none"/>
<path d="M419.95 263.80H423.85" stroke="#b3143b" stroke-width="1.0" fill="none"/>
<path d="M486.30 283.00V284.20" stroke="#b3143b" stroke-width="1" fill="none"/>
<path d="M484.35 283.00H488.25" stroke="#b3143b" stroke-width="1.0" fill="none"/>
<rect x="414.90" y="278.60" width="3.8" height="3.8" fill="#aa0829"/>
<rect x="420.00" y="266.30" width="3.8" height="3.8" fill="#aa0829"/>
<rect x="428.80" y="269.00" width="3.8" height="3.8" fill="#aa0829"/>
<rect x="440.70" y="265.10" width="3.8" height="3.8" fill="#aa0829"/>
<rect x="447.80" y="269.80" width="3.8" height="3.8" fill="#aa0829"/>
<rect x="455.70" y="272.70" width="3.8" height="3.8" fill="#aa0829"/>
<rect x="462.30" y="272.50" width="3.8" height="3.8" fill="#aa0829"/>
<rect x="475.10" y="291.80" width="3.8" height="3.8" fill="#aa0829"/>
<rect x="484.40" y="282.30" width="3.8" height="3.8" fill="#aa0829"/>
</svg>
</body></html>
